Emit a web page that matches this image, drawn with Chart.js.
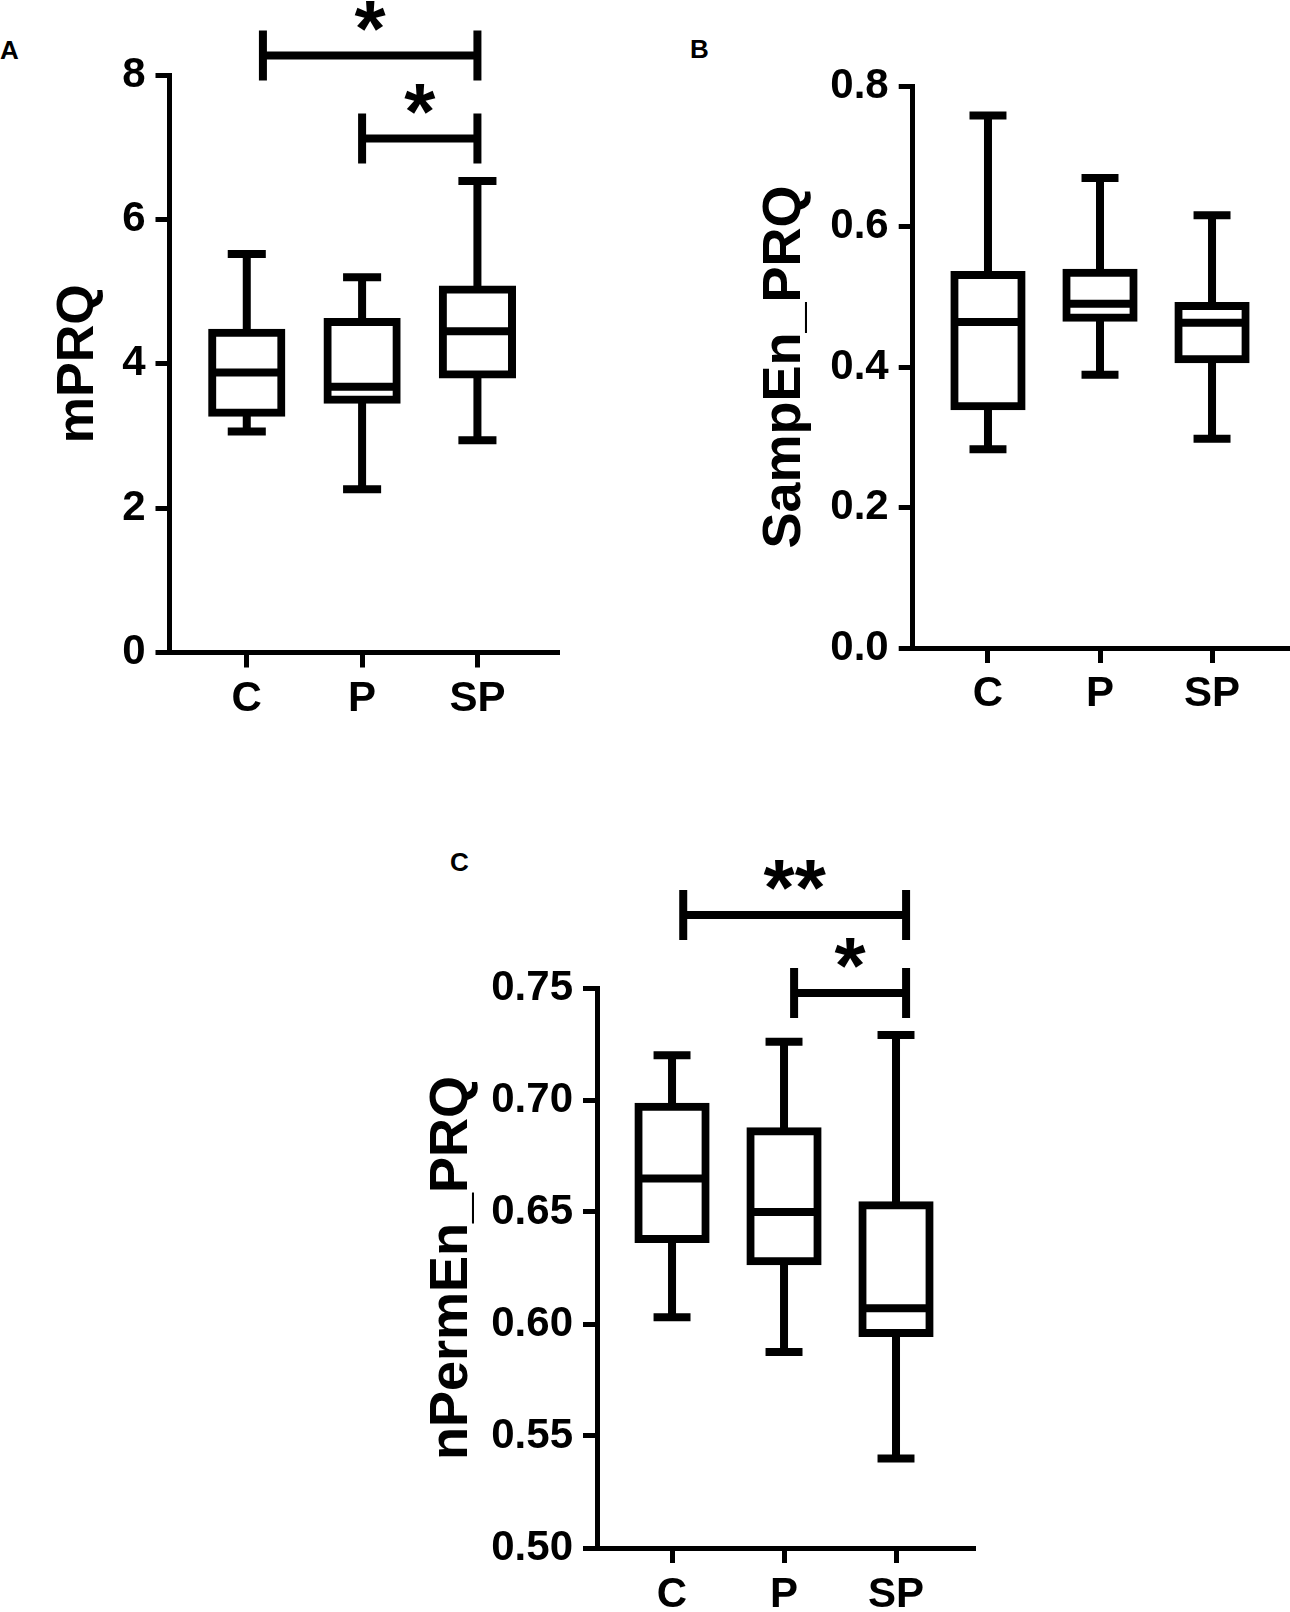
<!DOCTYPE html>
<html>
<head>
<meta charset="utf-8">
<title>PRQ box plots</title>
<script src="https://cdn.jsdelivr.net/npm/chart.js@4.4.1/dist/chart.umd.min.js"></script>
<style>
  body { margin: 0; background: #fff; }
  #page { position: relative; width: 1290px; height: 1612px; overflow: hidden; background: #fff; }
  canvas { position: absolute; }
  .tag { position: absolute; font: bold 26px 'Liberation Sans', Arial, sans-serif; line-height: 26px; color: #000; }
</style>
</head>
<body>
<div id="page">
  <div class="tag" style="left:0px;top:37px">A</div>
  <div class="tag" style="left:690px;top:36px">B</div>
  <div class="tag" style="left:450px;top:849px">C</div>
  <canvas id="chartA" width="600" height="740" style="left:0px;top:0px"></canvas>
  <canvas id="chartB" width="650" height="740" style="left:640px;top:0px"></canvas>
  <canvas id="chartC" width="600" height="812" style="left:400px;top:800px"></canvas>
</div>
<script>
var categories = ['C', 'P', 'SP'];

// panel A - mPRQ
var mprqMin    = [3.06, 2.26, 2.94];
var mprqQ1     = [3.32, 3.50, 3.85];
var mprqMedian = [3.88, 3.68, 4.45];
var mprqQ3     = [4.43, 4.58, 5.03];
var mprqMax    = [5.52, 5.20, 6.53];
var mprqTicks  = [0, 2, 4, 6, 8];
// [from, to, level, label]
var mprqBrackets = [[0.14, 2, 8.27, '*'], [1, 2, 7.12, '*']];

// panel B - SampEn_PRQ
var sampMin    = [0.283, 0.389, 0.298];
var sampQ1     = [0.344, 0.470, 0.411];
var sampMedian = [0.464, 0.490, 0.463];
var sampQ3     = [0.531, 0.534, 0.487];
var sampMax    = [0.758, 0.669, 0.616];
var sampTicks  = [0, 0.2, 0.4, 0.6, 0.8];
var sampBrackets = [];

// panel C - nPermEn_PRQ
var permMin    = [0.603, 0.5875, 0.540];
var permQ1     = [0.638, 0.628, 0.596];
var permMedian = [0.665, 0.650, 0.607];
var permQ3     = [0.697, 0.686, 0.653];
var permMax    = [0.720, 0.726, 0.729];
var permTicks  = [0.50, 0.55, 0.60, 0.65, 0.70, 0.75];
var permBrackets = [[0.10, 2.09, 0.7826, '**'], [1.09, 2.09, 0.7478, '*']];

var FONT = "'Liberation Sans', Arial, Helvetica, sans-serif";
var LW = 8;

function BoxPlugin(q1, q3, mins, medians, maxs, brackets){
    return {
        id: 'boxWhiskers',
        afterDatasetsDraw: function(chart){
            var ctx = chart.ctx;
            var xs = chart.scales.x;
            var ys = chart.scales.y;
            var bars = chart.getDatasetMeta(0).data;
            var step = xs.getPixelForValue(1) - xs.getPixelForValue(0);
            var capHalf = step * 0.165;
            ctx.save();
            ctx.strokeStyle = '#000';
            ctx.fillStyle = '#000';
            ctx.lineWidth = LW;
            ctx.lineCap = 'butt';
            bars.forEach(function(bar, i){
                var x = bar.x;
                var half = bar.width / 2;
                var pMax = ys.getPixelForValue(maxs[i]);
                var pMin = ys.getPixelForValue(mins[i]);
                var pQ3 = ys.getPixelForValue(q3[i]);
                var pQ1 = ys.getPixelForValue(q1[i]);
                var pMed = ys.getPixelForValue(medians[i]);
                ctx.beginPath();
                ctx.moveTo(x, pMax); ctx.lineTo(x, pQ3);
                ctx.moveTo(x, pQ1); ctx.lineTo(x, pMin);
                ctx.moveTo(x - capHalf, pMax); ctx.lineTo(x + capHalf, pMax);
                ctx.moveTo(x - capHalf, pMin); ctx.lineTo(x + capHalf, pMin);
                ctx.moveTo(x - half, pMed); ctx.lineTo(x + half, pMed);
                ctx.stroke();
            });
            ctx.font = 'bold 80px ' + FONT;
            ctx.textAlign = 'center';
            ctx.textBaseline = 'alphabetic';
            brackets.forEach(function(b){
                var x1 = xs.getPixelForValue(b[0]);
                var x2 = xs.getPixelForValue(b[1]);
                var y = ys.getPixelForValue(b[2]);
                ctx.beginPath();
                ctx.moveTo(x1, y); ctx.lineTo(x2, y);
                ctx.moveTo(x1, y - 25); ctx.lineTo(x1, y + 25);
                ctx.moveTo(x2, y - 25); ctx.lineTo(x2, y + 25);
                ctx.stroke();
                var m = ctx.measureText(b[3]);
                var cy = y - 40;
                var base = cy + (m.actualBoundingBoxAscent - m.actualBoundingBoxDescent) / 2;
                ctx.fillText(b[3], (x1 + x2) / 2, base);
            });
            ctx.restore();
        }
    };
}

function MakeChart(id, s){
    var ctx = document.getElementById(id).getContext('2d');
    var tickFont = {family: FONT, size: 42, weight: 'bold'};
    return new Chart(ctx, {
        type: 'bar',
        data: {
            datasets: [{
                data: categories.map(function(c, i){ return {x: i, y: [s.q1[i], s.q3[i]]}; }),
                backgroundColor: '#fff',
                borderColor: '#000',
                borderWidth: LW,
                borderSkipped: false,
                inflateAmount: LW / 2,
                barPercentage: 0.6,
                categoryPercentage: 1
            }]
        },
        options: {
            responsive: false,
            animation: false,
            layout: {padding: s.padding},
            plugins: {legend: {display: false}, tooltip: {enabled: false}},
            scales: {
                x: {
                    type: 'linear',
                    min: s.xMin,
                    max: s.xMax,
                    offset: false,
                    afterBuildTicks: function(scale){
                        scale.ticks = categories.map(function(c, i){ return {value: i}; });
                    },
                    afterFit: function(scale){ scale.height = s.xHeight; },
                    ticks: {
                        callback: function(v){ return categories[v]; },
                        color: '#000', font: tickFont, padding: s.xLabelPad,
                        maxRotation: 0, autoSkip: false
                    },
                    grid: {
                        offset: false, drawOnChartArea: false, drawTicks: true,
                        tickLength: 15, tickWidth: 5, tickColor: '#000', color: '#000', lineWidth: 5
                    },
                    border: {display: true, color: '#000', width: 5}
                },
                y: {
                    type: 'linear',
                    min: s.yTicks[0],
                    max: s.yTicks[s.yTicks.length - 1],
                    afterBuildTicks: function(scale){
                        scale.ticks = s.yTicks.map(function(v){ return {value: v}; });
                    },
                    afterFit: function(scale){ scale.width = s.yWidth; },
                    ticks: {
                        callback: function(v){ return v.toFixed(s.decimals); },
                        color: '#000', font: tickFont, padding: 10
                    },
                    grid: {
                        drawOnChartArea: false, drawTicks: true,
                        tickLength: 14, tickWidth: 5, tickColor: '#000', color: '#000', lineWidth: 5
                    },
                    border: {display: true, color: '#000', width: 5},
                    title: {
                        display: true, text: s.title, color: '#000',
                        font: {family: FONT, size: s.titleSize, weight: 'bold'},
                        padding: {top: s.titlePad, bottom: 0}
                    }
                }
            }
        },
        plugins: [BoxPlugin(s.q1, s.q3, s.min, s.median, s.max, s.brackets)]
    });
}

MakeChart('chartA', {
    q1: mprqQ1, q3: mprqQ3, min: mprqMin, median: mprqMedian, max: mprqMax,
    brackets: mprqBrackets, yTicks: mprqTicks, decimals: 0,
    title: 'mPRQ', titleSize: 52, titlePad: 47,
    xMin: -0.67, xMax: 2.69,
    padding: {top: 75, right: 43, bottom: 0, left: 0},
    yWidth: 169.5, xHeight: 87.5, xLabelPad: 7
});

MakeChart('chartB', {
    q1: sampQ1, q3: sampQ3, min: sampMin, median: sampMedian, max: sampMax,
    brackets: sampBrackets, yTicks: sampTicks, decimals: 1,
    title: 'SampEn_PRQ', titleSize: 54, titlePad: 113,
    xMin: -0.672, xMax: 2.696,
    padding: {top: 86, right: 0, bottom: 0, left: 0},
    yWidth: 272.7, xHeight: 92, xLabelPad: 6
});

MakeChart('chartC', {
    q1: permQ1, q3: permQ3, min: permMin, median: permMedian, max: permMax,
    brackets: permBrackets, yTicks: permTicks, decimals: 2,
    title: 'nPermEn_PRQ', titleSize: 54, titlePad: 20,
    xMin: -0.67, xMax: 2.6875,
    padding: {top: 188, right: 27, bottom: 0, left: 0},
    yWidth: 197, xHeight: 64, xLabelPad: 7
});
</script>
</body>
</html>
